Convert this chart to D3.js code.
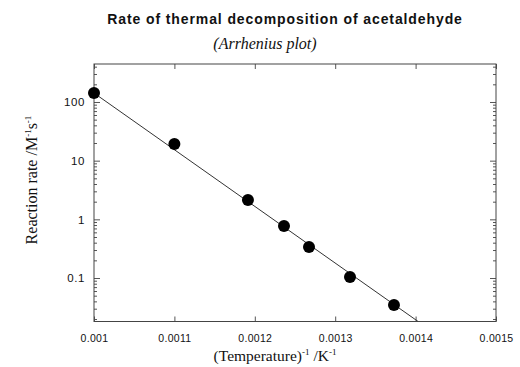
<!DOCTYPE html>
<html>
<head>
<meta charset="utf-8">
<script src="https://cdn.jsdelivr.net/npm/d3@7"></script>
<style>
  body { margin: 0; background: #fff; }
  svg { display: block; }
</style>
</head>
<body>
<div id="chart"></div>
<script>
// dados (1/T em K^-1, k em M^-1 s^-1)
const invTemp = [0.001, 0.0011, 0.0011915, 0.0012363, 0.0012674, 0.0013184, 0.0013731];
const rate = [142, 19.2, 2.14, 0.77, 0.339, 0.104, 0.0348];

// reta de ajuste (pontos extremos)
const fitX = [0.001, 0.001403];
const fitY = [142, 0.0182];

const xTicks = [0.001, 0.0011, 0.0012, 0.0013, 0.0014, 0.0015];
const xTickLabels = ["0.001", "0.0011", "0.0012", "0.0013", "0.0014", "0.0015"];
const yTicks = [0.1, 1, 10, 100];
const yTickLabels = ["0.1", "1", "10", "100"];

const width = 520, height = 367;
const margin = { top: 64, right: 24, bottom: 45.5, left: 94 };
const plotW = width - margin.left - margin.right;
const plotH = height - margin.top - margin.bottom;

const svg = d3.select("#chart").append("svg")
    .attr("width", width)
    .attr("height", height);

const x = d3.scaleLinear().domain([0.001, 0.0015]).range([0, plotW]);
const y = d3.scaleLog().domain([0.01815, 444]).range([plotH, 0]);

const g = svg.append("g").attr("transform", `translate(${margin.left},${margin.top})`);

// ticks menores do eixo log (2..9 em cada década)
const minorTicks = [];
for (let e = -2; e <= 2; e++) {
    for (let m = 2; m <= 9; m++) {
        const v = m * Math.pow(10, e);
        if (v > y.domain()[0] && v < y.domain()[1]) minorTicks.push(v);
    }
}

const tickColor = "#555";
const sans = "Liberation Sans, Arial, sans-serif";
const serif = "Liberation Serif, Times New Roman, serif";

// eixo y: esquerda e direita, para dentro
g.append("g").call(d3.axisLeft(y).tickValues(minorTicks).tickSize(-3).tickFormat(""))
    .call(a => a.select(".domain").remove())
    .selectAll("line").attr("stroke", tickColor);
g.append("g").call(d3.axisLeft(y).tickValues(yTicks).tickSize(-6).tickPadding(9)
        .tickFormat((d, i) => yTickLabels[i]))
    .call(a => a.select(".domain").remove())
    .call(a => a.selectAll("text").attr("font-family", sans)
        .attr("font-size", 11.5).attr("letter-spacing", 0.6).attr("fill", "#111"))
    .selectAll("line").attr("stroke", tickColor);

g.append("g").attr("transform", `translate(${plotW},0)`)
    .call(d3.axisRight(y).tickValues(minorTicks).tickSize(-3).tickFormat(""))
    .call(a => a.select(".domain").remove())
    .selectAll("line").attr("stroke", tickColor);
g.append("g").attr("transform", `translate(${plotW},0)`)
    .call(d3.axisRight(y).tickValues(yTicks).tickSize(-6).tickFormat(""))
    .call(a => a.select(".domain").remove())
    .selectAll("line").attr("stroke", tickColor);

// eixo x: baixo e cima
g.append("g").attr("transform", `translate(0,${plotH})`)
    .call(d3.axisBottom(x).tickValues(xTicks).tickSize(-5).tickPadding(13)
        .tickFormat((d, i) => xTickLabels[i]))
    .call(a => a.select(".domain").remove())
    .call(a => a.selectAll("text").attr("font-family", sans)
        .attr("font-size", 10.5).attr("letter-spacing", 0.3).attr("fill", "#111"))
    .selectAll("line").attr("stroke", tickColor);
g.append("g")
    .call(d3.axisTop(x).tickValues(xTicks).tickSize(-5).tickFormat(""))
    .call(a => a.select(".domain").remove())
    .selectAll("line").attr("stroke", tickColor);

// moldura
g.append("rect")
    .attr("width", plotW)
    .attr("height", plotH)
    .attr("fill", "none")
    .attr("stroke", "#444")
    .attr("stroke-width", 1);

// reta de ajuste (recortada na área do gráfico)
g.append("clipPath").attr("id", "clip")
    .append("rect").attr("width", plotW).attr("height", plotH);

const line = d3.line().x(d => x(d[0])).y(d => y(d[1]));
g.append("path")
    .datum(d3.zip(fitX, fitY))
    .attr("clip-path", "url(#clip)")
    .attr("d", line)
    .attr("fill", "none")
    .attr("stroke", "#333")
    .attr("stroke-width", 1);

// pontos
g.append("g").selectAll("circle")
    .data(d3.zip(invTemp, rate))
    .join("circle")
    .attr("cx", d => x(d[0]))
    .attr("cy", d => y(d[1]))
    .attr("r", 6)
    .attr("fill", "#000");

// títulos
svg.append("text")
    .attr("x", 285).attr("y", 24)
    .attr("text-anchor", "middle")
    .attr("font-family", sans)
    .attr("font-weight", "bold")
    .attr("font-size", 14)
    .attr("letter-spacing", 0.9)
    .attr("fill", "#111")
    .text("Rate of thermal decomposition of acetaldehyde");

svg.append("text")
    .attr("x", 265).attr("y", 49)
    .attr("text-anchor", "middle")
    .attr("font-family", serif)
    .attr("font-style", "italic")
    .attr("font-size", 16)
    .attr("fill", "#111")
    .text("(Arrhenius plot)");

// rótulo eixo x
const xl = svg.append("text")
    .attr("x", 275).attr("y", 361)
    .attr("text-anchor", "middle")
    .attr("font-family", serif)
    .attr("font-size", 15.5)
    .attr("fill", "#111");
xl.append("tspan").text("(Temperature)");
xl.append("tspan").attr("dy", -6).attr("font-size", 9).text("-1");
xl.append("tspan").attr("dy", 6).text(" /K");
xl.append("tspan").attr("dy", -6).attr("font-size", 9).text("-1");

// rótulo eixo y
const yl = svg.append("text")
    .attr("transform", "translate(37,180) rotate(-90)")
    .attr("text-anchor", "middle")
    .attr("font-family", serif)
    .attr("font-size", 16)
    .attr("fill", "#111");
yl.append("tspan").text("Reaction rate /M");
yl.append("tspan").attr("dy", -6).attr("font-size", 9).text("-1");
yl.append("tspan").attr("dy", 6).text("s");
yl.append("tspan").attr("dy", -6).attr("font-size", 9).text("-1");
</script>
</body>
</html>
